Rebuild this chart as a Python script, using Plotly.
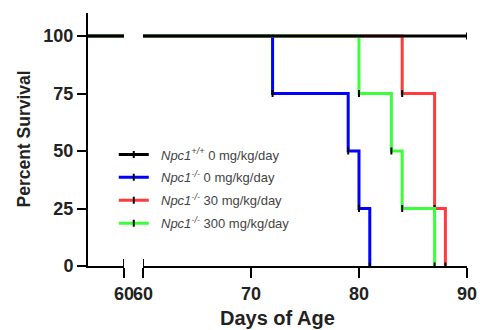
import plotly.graph_objects as go

# Kaplan-Meier survival data (days of age, percent survival)
days_black = [0, 90]
surv_black = [100, 100]
days_blue = [0, 72, 79, 80, 81]
surv_blue = [100, 75, 50, 25, 0]
days_red = [0, 84, 87, 88]
surv_red = [100, 75, 25, 0]
days_green = [0, 80, 83, 84, 87]
surv_green = [100, 75, 50, 25, 0]

names = [
    "\u00a0\u00a0<i>Npc1<sup>+/+</sup></i> 0 mg/kg/day",
    "\u00a0\u00a0<i>Npc1<sup>-/-</sup></i> 0 mg/kg/day",
    "\u00a0\u00a0<i>Npc1<sup>-/-</sup></i> 30 mg/kg/day",
    "\u00a0\u00a0<i>Npc1<sup>-/-</sup></i> 300 mg/kg/day",
]
colors = ["#000000", "#0000FF", "#FF3B3B", "#3BFF3B"]
series = [(days_black, surv_black), (days_blue, surv_blue),
          (days_red, surv_red), (days_green, surv_green)]

yticks = [0, 25, 50, 75, 100]
xticks_right = [60, 70, 80, 90]
xticks_left = [60]

FONT = "Liberation Sans, Arial, sans-serif"
fig = go.Figure()

# draw coloured first, black last (on top)
order = [1, 2, 3, 0]
for i in order:
    d, s = series[i]
    # left (broken) segment
    fig.add_trace(go.Scatter(x=d, y=s, xaxis="x", yaxis="y", mode="lines",
                             line=dict(color=colors[i], width=3, shape="hv"),
                             showlegend=False, hoverinfo="skip"))
    fig.add_trace(go.Scatter(x=d, y=s, xaxis="x2", yaxis="y", mode="lines+markers",
                             name=names[i], legendrank=i + 1, legendgroup="g%d" % i,
                             line=dict(color=colors[i], width=3, shape="hv"),
                             marker=dict(symbol="line-ns", size=5,
                                         line=dict(color="black", width=2))))

axis_common = dict(showline=True, linecolor="black", linewidth=2, ticks="outside",
                   tickcolor="black", tickwidth=2, showgrid=False, zeroline=False,
                   automargin=False,
                   tickfont=dict(family=FONT, size=18, color="#222", weight="bold"))

fig.update_layout(
    width=480, height=330,
    margin=dict(l=88, r=13, t=13, b=64),
    paper_bgcolor="white", plot_bgcolor="white",
    xaxis=dict(domain=[0, 0.095], range=[0, 60], tickvals=xticks_left,
               anchor="y", ticklen=10, **axis_common),
    xaxis2=dict(domain=[0.145, 1], range=[60, 90], tickvals=xticks_right,
                anchor="y", ticklen=10, **axis_common),
    yaxis=dict(range=[0, 110], tickvals=yticks, anchor="x", ticklen=9,
               **axis_common),
    legend=dict(x=0.068, y=0.5, xanchor="left", yanchor="top",
                bgcolor="rgba(0,0,0,0)", tracegroupgap=3, traceorder="grouped",
                font=dict(family=FONT, size=13, color="#444")),
    annotations=[
        dict(text="Days of Age", xref="paper", yref="paper", x=0.5, y=-0.205,
             xanchor="center", yanchor="middle", showarrow=False,
             font=dict(family=FONT, size=20, color="#222", weight="bold")),
        dict(text="Percent Survival", xref="paper", yref="paper", x=-0.1715, y=0.5,
             xanchor="center", yanchor="middle", showarrow=False, textangle=-90,
             font=dict(family=FONT, size=17.5, color="#222", weight="bold")),
    ],
    shapes=[
        dict(type="line", xref="x", yref="y", x0=60, x1=60, ysizemode="pixel",
             yanchor=0, y0=-7, y1=7, line=dict(color="black", width=2)),
        dict(type="line", xref="x2", yref="y", x0=60, x1=60, ysizemode="pixel",
             yanchor=0, y0=-7, y1=7, line=dict(color="black", width=2)),
    ],
)

fig.write_html("out.html")
